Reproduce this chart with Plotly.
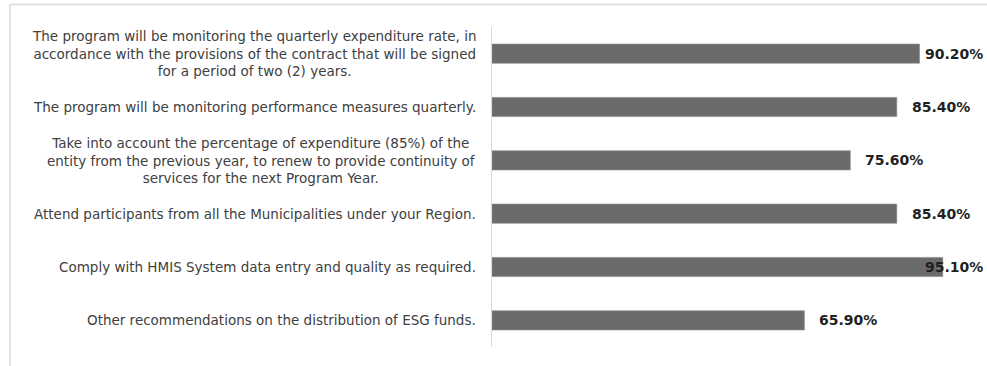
import plotly.graph_objects as go

# Survey recommendations and share of respondents agreeing
categories = [
    "The program will be monitoring the quarterly expenditure rate, in<br>accordance with the provisions of the contract that will be signed<br>for a period of two (2) years.",
    "The program will be monitoring performance measures quarterly.",
    "Take into account the percentage of expenditure (85%) of the<br>entity from the previous year, to renew to provide continuity of<br>services for the next Program Year.",
    "Attend participants from all the Municipalities under your Region.",
    "Comply with HMIS System data entry and quality as required.",
    "Other recommendations on the distribution of ESG funds.",
]
values = [90.2, 85.4, 75.6, 85.4, 95.1, 65.9]
value_labels = ["90.20%", "85.40%", "75.60%", "85.40%", "95.10%", "65.90%"]

W, H = 987, 366
M_L, M_R, M_T, M_B = 492, 21, 27, 19
X_MAX = 100.0
px_per_unit = (W - M_L - M_R) / X_MAX

BAR_COLOR = "#6b6b6b"
TEXT_COLOR = "#404040"
LABEL_COLOR = "#1f1f1f"
FONT = "DejaVu Sans"

ids = list(range(len(categories)))

fig = go.Figure(
    go.Bar(
        x=values,
        y=ids,
        orientation="h",
        width=0.36,
        marker=dict(color=BAR_COLOR, line=dict(color="#8a8a8a", width=0.6)),
        hoverinfo="skip",
    )
)

annotations = []
# Category labels, centred line by line, right-aligned against the axis
for i, cat in enumerate(categories):
    annotations.append(dict(
        x=0, y=i, xref="x", yref="y",
        text=cat, showarrow=False,
        xanchor="right", yanchor="middle", xshift=-14,
        align="center",
        font=dict(family=FONT, size=13.5, color=TEXT_COLOR),
    ))

# Value labels after each bar, held inside the chart's right edge
label_w = 60
right_limit = W - 4
for i, (v, lab) in enumerate(zip(values, value_labels)):
    end_px = M_L + v * px_per_unit
    shift = min(13, right_limit - label_w - end_px)
    annotations.append(dict(
        x=v, y=i, xref="x", yref="y",
        text="<b>" + lab + "</b>", showarrow=False,
        xanchor="left", yanchor="middle", xshift=shift,
        font=dict(family=FONT, size=14, color=LABEL_COLOR),
    ))

# Chart frame lines (top and left)
shapes = [
    dict(type="line", xref="paper", yref="paper",
         x0=(10 - M_L) / (W - M_L - M_R), x1=(W - M_L) / (W - M_L - M_R),
         y0=(H - M_B - 4.5) / (H - M_T - M_B), y1=(H - M_B - 4.5) / (H - M_T - M_B),
         line=dict(color="#e2e2e2", width=2)),
    dict(type="line", xref="paper", yref="paper",
         x0=(10 - M_L) / (W - M_L - M_R), x1=(10 - M_L) / (W - M_L - M_R),
         y0=(H - M_B - 4.5) / (H - M_T - M_B), y1=-M_B / (H - M_T - M_B),
         line=dict(color="#e2e2e2", width=2)),
]

fig.update_layout(
    width=W, height=H,
    margin=dict(l=M_L, r=M_R, t=M_T, b=M_B, pad=0),
    paper_bgcolor="white", plot_bgcolor="white",
    showlegend=False,
    annotations=annotations,
    shapes=shapes,
    font=dict(family=FONT, color=TEXT_COLOR),
    xaxis=dict(range=[0, X_MAX], visible=False, fixedrange=True),
    yaxis=dict(
        range=[len(categories) - 0.5, -0.5],
        showticklabels=False, ticks="",
        showgrid=False, zeroline=False,
        showline=True, linecolor="#d9d9d9", linewidth=1,
        fixedrange=True,
    ),
)

fig.write_html("out.html")
